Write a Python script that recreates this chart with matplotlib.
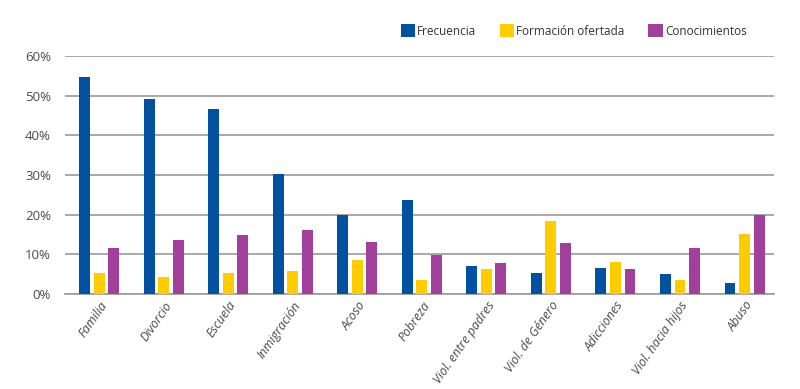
import numpy as np
import matplotlib
matplotlib.use('Agg')
import matplotlib.pyplot as plt
from matplotlib.ticker import FuncFormatter

categorias = ['Familia', 'Divorcio', 'Escuela', 'Inmigración', 'Acoso', 'Pobreza',
              'Viol. entre padres', 'Viol. de Género', 'Adicciones',
              'Viol. hacia hijos', 'Abuso']
frecuencia = [54.6, 49.2, 46.7, 30.2, 19.9, 23.7, 7.1, 5.4, 6.6, 5.0, 2.7]
formacion = [5.4, 4.2, 5.4, 5.7, 8.6, 3.6, 6.3, 18.5, 8.1, 3.6, 15.2]
conocimientos = [11.6, 13.6, 15.0, 16.1, 13.2, 9.8, 7.9, 12.9, 6.2, 11.6, 19.9]

plt.rcParams['font.family'] = ['Open Sans', 'DejaVu Sans']

fig = plt.figure(figsize=(8, 3.89), dpi=100)
ax = fig.add_axes([0.081, 0.244, 0.8865, 0.612])

x = np.arange(len(categorias))
w = 0.17
paso = 0.225
b1 = ax.bar(x - paso, frecuencia, w, color='#0250a0', label='Frecuencia', zorder=3)
b2 = ax.bar(x, formacion, w, color='#ffcc00', label='Formación ofertada', zorder=3)
b3 = ax.bar(x + paso, conocimientos, w, color='#a0409a', label='Conocimientos', zorder=3)

ax.set_ylim(0, 60)
ax.set_xlim(-0.535, 10.457)
ax.set_yticks(range(0, 61, 10))
ax.yaxis.set_major_formatter(FuncFormatter(lambda v, p: '%d%%' % v))
ax.yaxis.grid(True, color='#9a9a9a', linewidth=1.2, zorder=0)
for s in ['top', 'right', 'left']:
    ax.spines[s].set_visible(False)
ax.spines['bottom'].set_color('#9a9a9a')
ax.spines['bottom'].set_linewidth(1.2)
ax.tick_params(axis='both', length=0, colors='#4a4a4a', labelsize=9.5)
ax.tick_params(axis='y', pad=10)
ax.set_xticks(x)
ax.set_xticklabels(categorias, rotation=55, ha='right', rotation_mode='anchor',
                   fontsize=9, fontstyle='italic')

fig.legend(handles=[b1, b2, b3], loc='center', bbox_to_anchor=(0.717, 0.92), ncol=3,
           frameon=False, fontsize=8.5, handlelength=1.2, handleheight=1.3,
           handletextpad=0.2, columnspacing=2.0, labelcolor='#333333')

fig.savefig('out.png', dpi=100)
